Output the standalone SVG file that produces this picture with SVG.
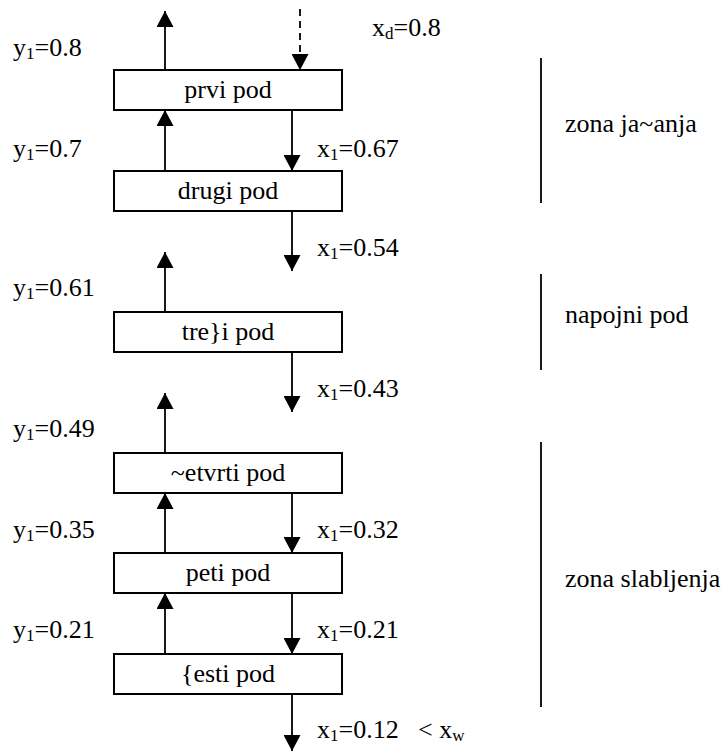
<svg xmlns="http://www.w3.org/2000/svg" width="727" height="752" viewBox="0 0 727 752" font-family="'Liberation Serif', 'Times New Roman', serif">
<style>
text{font-family:'Liberation Serif','Times New Roman',serif;font-size:26px;fill:#000}
.box{fill:#fff;stroke:#000;stroke-width:2}
.c{text-anchor:middle}
.ln{stroke:#000;stroke-width:1.8;fill:none}
.sub{font-size:17px}
</style>
<defs>
<marker id="ah" viewBox="0 0 16 17" refX="16" refY="8.5" markerWidth="16" markerHeight="17" orient="auto" markerUnits="userSpaceOnUse">
<path d="M0,0 L16,8.5 L0,17 z" fill="#000"/>
</marker>
</defs>
<rect width="727" height="752" fill="#fff"/>
<g id="connectors">
<line class="ln" x1="165" y1="70" x2="165" y2="11" marker-end="url(#ah)"/>
<line class="ln" x1="300" y1="9" x2="300" y2="70" stroke-dasharray="7 5" marker-end="url(#ah)"/>
<line class="ln" x1="165" y1="171" x2="165" y2="110" marker-end="url(#ah)"/>
<line class="ln" x1="292" y1="110" x2="292" y2="171" marker-end="url(#ah)"/>
<line class="ln" x1="292" y1="211" x2="292" y2="271" marker-end="url(#ah)"/>
<line class="ln" x1="165" y1="312" x2="165" y2="252" marker-end="url(#ah)"/>
<line class="ln" x1="292" y1="352" x2="292" y2="412" marker-end="url(#ah)"/>
<line class="ln" x1="165" y1="453" x2="165" y2="393" marker-end="url(#ah)"/>
<line class="ln" x1="165" y1="553" x2="165" y2="493" marker-end="url(#ah)"/>
<line class="ln" x1="292" y1="493" x2="292" y2="553" marker-end="url(#ah)"/>
<line class="ln" x1="165" y1="654" x2="165" y2="593" marker-end="url(#ah)"/>
<line class="ln" x1="292" y1="593" x2="292" y2="654" marker-end="url(#ah)"/>
<line class="ln" x1="292" y1="694" x2="292" y2="751" marker-end="url(#ah)"/>
</g>
<g id="pod1"><rect class="box" x="114" y="70" width="228" height="40"/><text class="c" x="228" y="98">prvi pod</text></g>
<g id="pod2"><rect class="box" x="114" y="171" width="228" height="40"/><text class="c" x="228" y="199">drugi pod</text></g>
<g id="pod3"><rect class="box" x="114" y="312" width="228" height="40"/><text class="c" x="228" y="340">tre}i pod</text></g>
<g id="pod4"><rect class="box" x="114" y="453" width="228" height="40"/><text class="c" x="228" y="481">~etvrti pod</text></g>
<g id="pod5"><rect class="box" x="114" y="553" width="228" height="40"/><text class="c" x="228" y="581">peti pod</text></g>
<g id="pod6"><rect class="box" x="114" y="654" width="228" height="40"/><text class="c" x="228" y="682">{esti pod</text></g>
<g id="labels">
<text x="372" y="36">x<tspan class="sub" dy="3">d</tspan><tspan dy="-3">=0.8</tspan></text>
<text x="13" y="56">y<tspan class="sub" dy="3">1</tspan><tspan dy="-3">=0.8</tspan></text>
<text x="13" y="157">y<tspan class="sub" dy="3">1</tspan><tspan dy="-3">=0.7</tspan></text>
<text x="317" y="157">x<tspan class="sub" dy="3">1</tspan><tspan dy="-3">=0.67</tspan></text>
<text x="317" y="256">x<tspan class="sub" dy="3">1</tspan><tspan dy="-3">=0.54</tspan></text>
<text x="13" y="296">y<tspan class="sub" dy="3">1</tspan><tspan dy="-3">=0.61</tspan></text>
<text x="317" y="397">x<tspan class="sub" dy="3">1</tspan><tspan dy="-3">=0.43</tspan></text>
<text x="13" y="437">y<tspan class="sub" dy="3">1</tspan><tspan dy="-3">=0.49</tspan></text>
<text x="13" y="538">y<tspan class="sub" dy="3">1</tspan><tspan dy="-3">=0.35</tspan></text>
<text x="317" y="538">x<tspan class="sub" dy="3">1</tspan><tspan dy="-3">=0.32</tspan></text>
<text x="13" y="638">y<tspan class="sub" dy="3">1</tspan><tspan dy="-3">=0.21</tspan></text>
<text x="317" y="638">x<tspan class="sub" dy="3">1</tspan><tspan dy="-3">=0.21</tspan></text>
<text x="317" y="738">x<tspan class="sub" dy="3">1</tspan><tspan dy="-3">=0.12</tspan></text>
<text x="418" y="738">&lt; x<tspan class="sub" dy="3">w</tspan></text>
</g>
<g id="zones">
<line class="ln" x1="541" y1="58" x2="541" y2="203"/>
<text x="565" y="132">zona ja~anja</text>
<line class="ln" x1="541" y1="274" x2="541" y2="370"/>
<text x="565" y="323">napojni pod</text>
<line class="ln" x1="541" y1="442" x2="541" y2="707"/>
<text x="565" y="587">zona slabljenja</text>
</g>
</svg>
